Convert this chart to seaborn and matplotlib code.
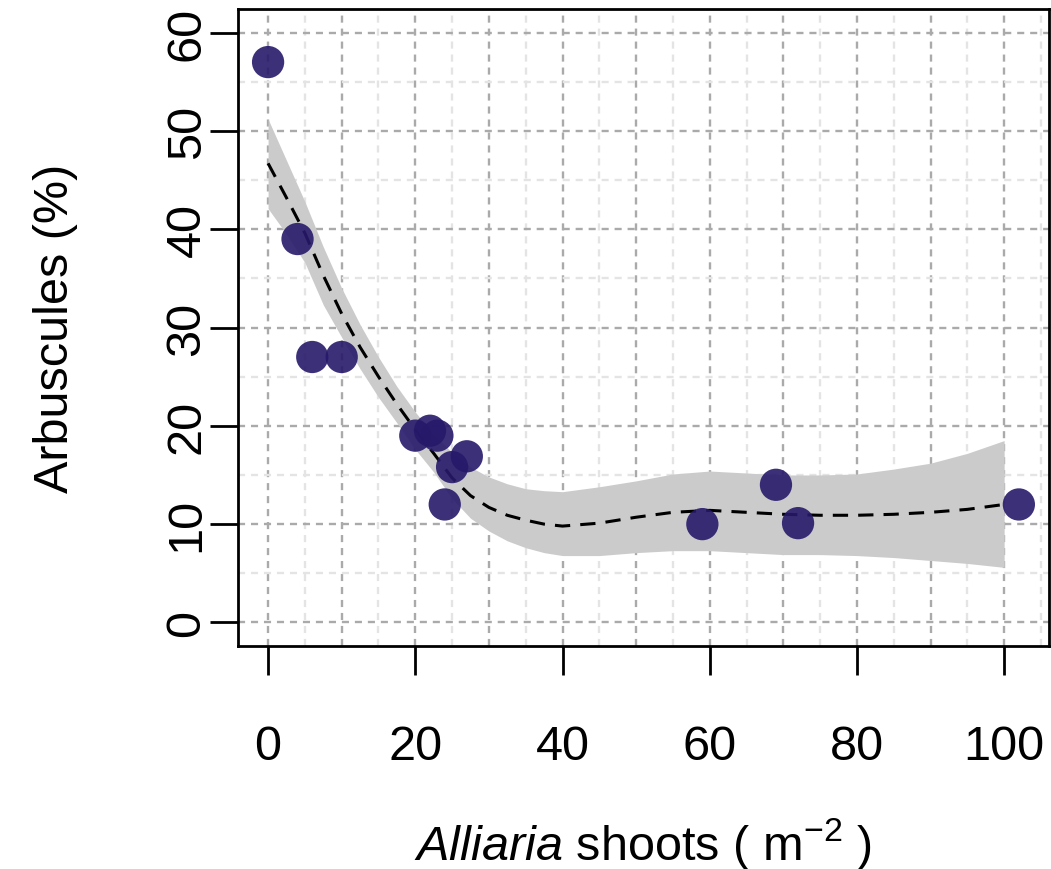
import numpy as np
import pandas as pd
import matplotlib
matplotlib.use("Agg")
import matplotlib.pyplot as plt
import seaborn as sns

# observed points
shoots = [0, 4, 6, 10, 20, 22, 23, 24, 25, 27, 59, 69, 72, 102]
arbuscules = [57, 39, 27, 27, 19, 19.5, 19, 12, 15.8, 16.9, 10, 14, 10.1, 12]

# smoothed fit with confidence band
fit_x = [0, 2.5, 5, 7.5, 10, 12.5, 15, 17.5, 20, 22.5, 25, 27.5, 30, 32.5, 35, 37.5, 40,
         45, 50, 55, 60, 65, 70, 75, 80, 85, 90, 95, 100]
fit_y = [46.7, 43.2, 39.6, 35.3, 31.4, 28.0, 25.0, 22.2, 19.6, 17.2, 14.7, 12.9, 11.7, 10.9, 10.4, 10.0, 9.8,
         10.1, 10.7, 11.2, 11.4, 11.2, 11.0, 10.9, 10.9, 11.0, 11.2, 11.5, 12.0]
fit_hi = [51.2, 47.0, 42.8, 38.2, 34.0, 30.3, 27.0, 24.0, 21.4, 19.1, 17.3, 15.8, 14.8, 14.1, 13.6, 13.4, 13.3,
          13.8, 14.4, 15.1, 15.4, 15.2, 15.0, 15.0, 15.1, 15.6, 16.2, 17.2, 18.5]
fit_lo = [42.1, 39.5, 36.6, 32.3, 29.0, 25.8, 22.9, 20.3, 17.6, 15.3, 12.6, 10.6, 9.3, 8.3, 7.6, 7.1, 6.8,
          6.8, 7.1, 7.3, 7.3, 7.1, 6.9, 6.9, 6.8, 6.6, 6.3, 6.0, 5.6]

x_ticks = [0, 20, 40, 60, 80, 100]
y_ticks = [0, 10, 20, 30, 40, 50, 60]

pts = pd.DataFrame({"shoots": shoots, "arbuscules": arbuscules})
fit = pd.DataFrame({"x": fit_x, "y": fit_y, "lo": fit_lo, "hi": fit_hi})

sns.set_style("ticks")
plt.rcParams["font.family"] = ["Liberation Sans", "DejaVu Sans"]
plt.rcParams["mathtext.fontset"] = "custom"
plt.rcParams["mathtext.rm"] = "Liberation Sans"
plt.rcParams["mathtext.it"] = "Liberation Sans:italic"
plt.rcParams["text.color"] = "black"
plt.rcParams["axes.labelcolor"] = "black"

fig, ax = plt.subplots(figsize=(10.51, 8.70), dpi=100)
fig.subplots_adjust(left=0.2265, right=0.998, bottom=0.2563, top=0.9885)

# grid: major every 10, minor every 5
for gx in np.arange(0, 106, 5):
    major = gx % 10 == 0
    ax.axvline(gx, color="#AAAAAA" if major else "#E4E4E4", lw=1.7,
               dashes=(3, 2.5), zorder=0)
for gy in np.arange(0, 61, 5):
    major = gy % 10 == 0
    ax.axhline(gy, color="#AAAAAA" if major else "#E4E4E4", lw=1.7,
               dashes=(3, 2.5), zorder=0)

ax.fill_between(fit["x"], fit["lo"], fit["hi"], color="#CBCBCB", lw=0, zorder=1)
sns.lineplot(data=fit, x="x", y="y", ax=ax, color="black", lw=2.2,
             dashes=False, zorder=2).lines[-1].set_dashes((5, 3.3))
sns.scatterplot(data=pts, x="shoots", y="arbuscules", ax=ax, s=540,
                color="#27196A", alpha=0.9, edgecolor="none", zorder=3)

ax.set_xlim(-4.08, 106.08)
ax.set_ylim(-2.4, 62.4)
ax.set_xticks(x_ticks)
ax.set_yticks(y_ticks)
ax.set_xticklabels([str(v) for v in x_ticks], fontsize=35)
ax.set_yticklabels([str(v) for v in y_ticks], fontsize=35, rotation=90, va="center")
ax.tick_params(axis="x", length=21, width=2, pad=35, colors="black")
ax.tick_params(axis="y", length=20, width=2, pad=0.5, colors="black")
for sp in ax.spines.values():
    sp.set_linewidth(2)
    sp.set_color("black")
    sp.set_visible(True)

ax.set_xlabel(r"$\mathit{Alliaria}$ shoots ( m$^{-2}$ )", fontsize=35, labelpad=33)
ax.set_ylabel("Arbuscules (%)", fontsize=35, labelpad=62)

fig.savefig("out.png", dpi=100)
